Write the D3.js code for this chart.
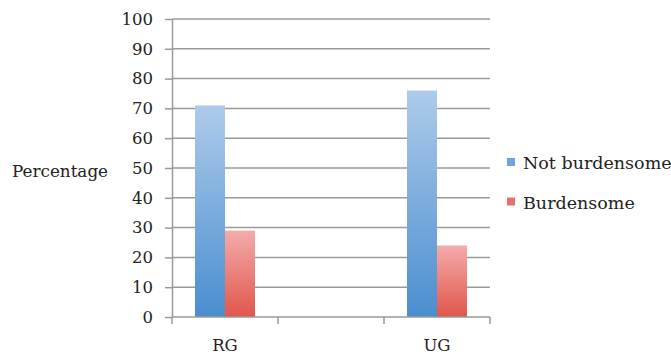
<!DOCTYPE html>
<html>
<head>
<meta charset="utf-8">
<script src="https://cdn.jsdelivr.net/npm/d3@7/dist/d3.min.js"></script>
<style>
  html, body { margin: 0; padding: 0; background: #fff; }
  svg { display: block; }
  text { font-family: "DejaVu Serif", "Liberation Serif", serif; fill: #222; }
</style>
</head>
<body>
<svg id="chart" width="671" height="354"></svg>
<script>
// Groups along the x axis (the middle slot is left empty)
const categories = ["RG", "", "UG"];
const seriesNames = ["Not burdensome", "Burdensome"];
const notBurdensome = [71, null, 76];
const burdensome = [29, null, 24];
const yTicks = [0, 10, 20, 30, 40, 50, 60, 70, 80, 90, 100];

const svg = d3.select("#chart");
const margin = { left: 172, right: 181, top: 19, bottom: 37 };
const W = 671, H = 354;

const x = d3.scaleBand().domain(d3.range(categories.length))
  .range([margin.left, W - margin.right]).paddingInner(0).paddingOuter(0);
const y = d3.scaleLinear().domain([0, 100]).range([H - margin.bottom, margin.top]);

const sub = d3.scaleBand().domain(seriesNames).range([0, 60]);
const groupOffset = (x.bandwidth() - 60) / 2;

// Vertical gradients for the bars
const defs = svg.append("defs");
const grads = [
  { id: "gBlue", top: "#adcbea", bottom: "#4a8ed0" },
  { id: "gRed", top: "#f4abab", bottom: "#e0564c" }
];
grads.forEach(g => {
  const lg = defs.append("linearGradient").attr("id", g.id)
    .attr("x1", 0).attr("y1", 0).attr("x2", 0).attr("y2", 1);
  lg.append("stop").attr("offset", "0%").attr("stop-color", g.top);
  lg.append("stop").attr("offset", "100%").attr("stop-color", g.bottom);
});
const fills = { "Not burdensome": "url(#gBlue)", "Burdensome": "url(#gRed)" };
const swatch = { "Not burdensome": "#6fa3dc", "Burdensome": "#e8706a" };

// Horizontal gridlines
svg.append("g").selectAll("line").data(yTicks.filter(d => d > 0)).join("line")
  .attr("x1", margin.left).attr("x2", W - margin.right)
  .attr("y1", d => y(d)).attr("y2", d => y(d))
  .attr("stroke", "#9a9a9a").attr("stroke-width", 1.5);

// Bars
const rows = categories.map((c, i) => ({ i, values: [
  { name: seriesNames[0], v: notBurdensome[i] },
  { name: seriesNames[1], v: burdensome[i] }
]}));
svg.append("g").selectAll("g").data(rows).join("g")
  .attr("transform", d => `translate(${x(d.i) + groupOffset},0)`)
  .selectAll("rect").data(d => d.values.filter(v => v.v != null)).join("rect")
  .attr("x", d => sub(d.name))
  .attr("width", sub.bandwidth())
  .attr("y", d => y(d.v))
  .attr("height", d => y(0) - y(d.v))
  .attr("fill", d => fills[d.name]);

// Y axis
const yAxis = svg.append("g").attr("transform", `translate(${margin.left},0)`)
  .call(d3.axisLeft(y).tickValues(yTicks).tickSize(7).tickPadding(12).tickSizeOuter(0));
yAxis.select(".domain").attr("stroke", "#9a9a9a").attr("stroke-width", 1.5);
yAxis.selectAll(".tick line").attr("stroke", "#9a9a9a").attr("stroke-width", 1.5);
yAxis.selectAll(".tick text").style("font-size", "16.5px").style("font-family", "DejaVu Serif").attr("fill", "#222");

// X axis: ticks on the band boundaries, labels under band centres
const xg = svg.append("g").attr("transform", `translate(0,${y(0)})`);
xg.append("line").attr("x1", margin.left).attr("x2", W - margin.right)
  .attr("stroke", "#9a9a9a").attr("stroke-width", 1.5);
const bounds = d3.range(categories.length + 1).map(i =>
  i < categories.length ? x(i) : x(i - 1) + x.bandwidth());
xg.selectAll("line.tk").data(bounds).join("line").attr("class", "tk")
  .attr("x1", d => d).attr("x2", d => d).attr("y1", 0).attr("y2", 7)
  .attr("stroke", "#9a9a9a").attr("stroke-width", 1.5);
xg.selectAll("text").data(categories.map((c, i) => ({ c, i })).filter(d => d.c)).join("text")
  .attr("x", d => x(d.i) + x.bandwidth() / 2).attr("y", 34)
  .attr("text-anchor", "middle").style("font-size", "16.5px").text(d => d.c);

// Y axis title
svg.append("text").attr("x", 12).attr("y", 177)
  .style("font-size", "16.8px").text("Percentage");

// Legend
const lg = svg.append("g").selectAll("g").data(seriesNames).join("g")
  .attr("transform", (d, i) => `translate(507,${158 + i * 39.5})`);
lg.append("rect").attr("width", 8).attr("height", 8).attr("fill", d => swatch[d]);
lg.append("text").attr("x", 16).attr("y", 11).style("font-size", "17.5px").text(d => d);
</script>
</body>
</html>
